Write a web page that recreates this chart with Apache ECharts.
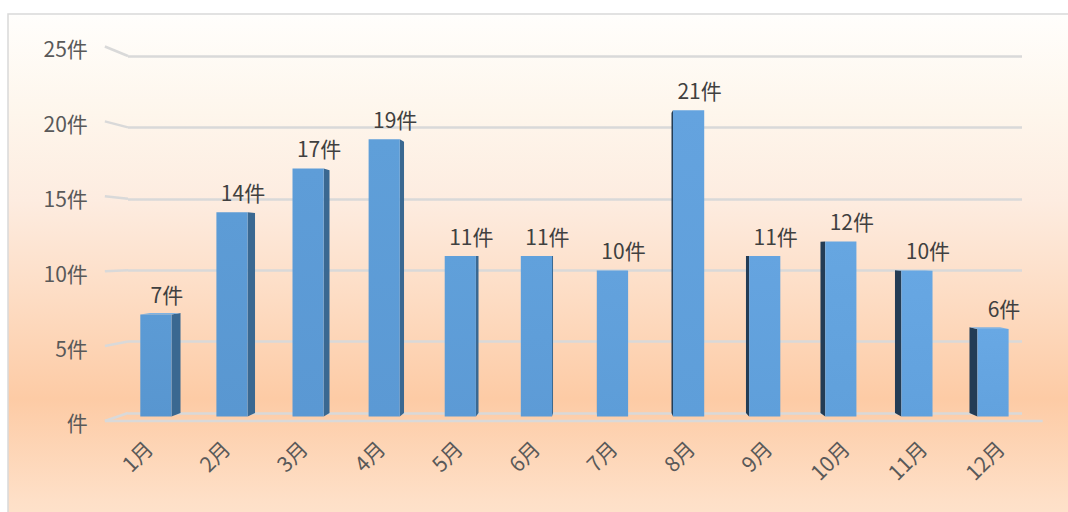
<!DOCTYPE html>
<html>
<head>
<meta charset="utf-8">
<script src="https://cdn.jsdelivr.net/npm/echarts@6/dist/echarts.min.js"></script>
<style>
html,body{margin:0;padding:0;background:#ffffff;}
#c{width:1068px;height:512px;}
</style>
</head>
<body>
<div id="c"></div>
<script>
// ---- data ----
const categories = ['1月','2月','3月','4月','5月','6月','7月','8月','9月','10月','11月','12月'];
const values = [7, 14, 17, 19, 11, 11, 10, 21, 11, 12, 10, 6];
const yTicks = [0, 5, 10, 15, 20, 25];
const yTickLabels = ['件', '5件', '10件', '15件', '20件', '25件'];
const unit = '件';

// ---- perspective style constants ----
const VP = [600, 250];          // vanishing point
const F_FRONT = 1.0215;         // bar front plane scale
const F_FLOOR = 1.049;          // floor / wall front edge scale
const F_XLABEL = 1.0393;        // category label anchor scale
function proj(p, f) { return [VP[0] + (p[0] - VP[0]) * f, VP[1] + (p[1] - VP[1]) * f]; }
const FONT_FAMILY = '"Noto Sans CJK JP", "Noto Sans", sans-serif';
const GRID_COLOR = '#d9d9d9';

function renderBar(params, api) {
  const i = api.value(0), v = api.value(1);
  const top = api.coord([i, v]);
  const base = api.coord([i, 0]);
  const half = api.size([1, 0])[0] * 0.205;
  const bTL = [top[0] - half, top[1]], bTR = [top[0] + half, top[1]];
  const bBR = [top[0] + half, base[1]], bBL = [top[0] - half, base[1]];
  const fTL = proj(bTL, F_FRONT), fTR = proj(bTR, F_FRONT), fBR = proj(bBR, F_FRONT), fBL = proj(bBL, F_FRONT);
  const cx = (fTL[0] + fTR[0]) / 2;
  const children = [];
  if (cx < VP[0]) {
    children.push({ type: 'polygon', shape: { points: [fTR, bTR, bBR, fBR] }, style: { fill: '#3a6891' } });
  } else {
    children.push({ type: 'polygon', shape: { points: [fTL, bTL, bBL, fBL] }, style: { fill: '#233c55' } });
  }
  if (fTL[1] > VP[1]) {
    children.push({ type: 'polygon', shape: { points: [fTL, fTR, bTR, bTL] }, style: { fill: '#7fb2e2' } });
  }
  const t = i / (categories.length - 1);
  const mix = (a, b) => Math.round(a + (b - a) * t);
  const cTop = `rgb(${mix(92,104)},${mix(155,168)},${mix(213,228)})`;
  const cBot = `rgb(${mix(88,98)},${mix(150,162)},${mix(208,222)})`;
  children.push({
    type: 'polygon',
    shape: { points: [fTL, fTR, fBR, fBL] },
    style: { fill: new echarts.graphic.LinearGradient(0, 0, 0, 1, [{ offset: 0, color: cTop }, { offset: 1, color: cBot }]) }
  });
  children.push({
    type: 'text',
    x: cx + 11, y: fTL[1] - 10,
    style: { text: v + unit, fill: '#404040', fontSize: 21, fontFamily: FONT_FAMILY, align: 'center', verticalAlign: 'bottom' }
  });
  return { type: 'group', children };
}

function renderWall(params, api) {
  const v = api.value(1), k = api.value(2);
  const cs = params.coordSys;
  const y = api.coord([0, v])[1];
  const B = [cs.x, y];
  const F = proj(B, F_FLOOR);
  const children = [
    { type: 'line', shape: { x1: F[0], y1: F[1], x2: B[0], y2: B[1] }, style: { stroke: GRID_COLOR, lineWidth: 2.5 } },
    { type: 'text', x: F[0] - 17, y: F[1] + 1.5,
      style: { text: yTickLabels[k], fill: '#595959', fontSize: 21, fontFamily: FONT_FAMILY, align: 'right', verticalAlign: 'middle' } }
  ];
  if (v === 0) {
    const R = proj([cs.x + cs.width, y], F_FLOOR);
    children.push({ type: 'line', shape: { x1: F[0], y1: F[1], x2: R[0], y2: R[1] }, style: { stroke: GRID_COLOR, lineWidth: 2.5 } });
  }
  return { type: 'group', children };
}

function renderXLabel(params, api) {
  const i = api.value(0);
  const base = api.coord([i, 0]);
  const x = VP[0] + (base[0] - VP[0]) * F_XLABEL;
  const y = proj(base, F_FLOOR)[1] + 23;
  return {
    type: 'text', x, y, rotation: Math.PI / 4,
    style: { text: categories[i], fill: '#595959', fontSize: 21, fontFamily: FONT_FAMILY, align: 'right', verticalAlign: 'middle' }
  };
}

const chart = echarts.init(document.getElementById('c'), null, { renderer: 'svg' });
chart.setOption({
  animation: false,
  graphic: [{
    type: 'rect', z: -100, silent: true,
    shape: { x: 8, y: 14, width: 1100, height: 520 },
    style: {
      fill: new echarts.graphic.LinearGradient(0, 0, 0, 1, [
        { offset: 0, color: '#fffefc' },
        { offset: 0.19, color: '#fef6ec' },
        { offset: 0.36, color: '#fdece0' },
        { offset: 0.55, color: '#fddcc3' },
        { offset: 0.74, color: '#fdcba5' },
        { offset: 0.94, color: '#fee0c8' },
        { offset: 1, color: '#fee4ce' }
      ]),
      stroke: '#d9d9d9', lineWidth: 1.5
    }
  }],
  grid: { left: 128, right: 46, top: 56, bottom: 99, containLabel: false },
  xAxis: {
    type: 'category', data: categories,
    axisLine: { show: false }, axisTick: { show: false }, axisLabel: { show: false }, splitLine: { show: false }
  },
  yAxis: {
    type: 'value', min: 0, max: 25, interval: 5,
    axisLine: { show: false }, axisTick: { show: false }, axisLabel: { show: false },
    splitLine: { show: true, lineStyle: { color: GRID_COLOR, width: 2.5 } }
  },
  series: [
    {
      type: 'custom', name: 'walls', clip: false, silent: true, z: 1,
      data: yTicks.map((v, k) => [0, v, k]),
      encode: { x: 0, y: 1 },
      renderItem: renderWall
    },
    {
      type: 'custom', name: 'xlabels', clip: false, silent: true, z: 1,
      data: categories.map((c, i) => [i, 0]),
      encode: { x: 0, y: 1 },
      renderItem: renderXLabel
    },
    {
      type: 'custom', name: '件数', clip: false, z: 3,
      data: values.map((v, i) => [i, v]),
      encode: { x: 0, y: 1 },
      renderItem: renderBar
    }
  ]
});
</script>
</body>
</html>
